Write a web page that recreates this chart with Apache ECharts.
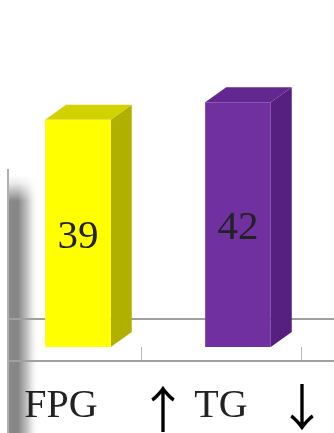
<!DOCTYPE html>
<html>
<head>
<meta charset="utf-8">
<script src="https://cdn.jsdelivr.net/npm/echarts@6/dist/echarts.min.js"></script>
<style>
  html, body { margin: 0; padding: 0; background: #fff; }
  #chart { width: 334px; height: 433px; }
</style>
</head>
<body>
<div id="chart"></div>
<script>
// Indicators and their values
const categories = ['FPG', 'TG'];
const values = [39, 42];
const trendMarks = ['↑', '↓'];

// Face colours of each prism: front, side, top
const faceColors = [
  ['#ffff00', '#b0b000', '#d2d200'],
  ['#7030a0', '#55207f', '#622890']
];

const chart = echarts.init(document.getElementById('chart'), null, { renderer: 'canvas' });

const DEPTH_X = 21;
const DEPTH_Y = 15;

function renderPrism(params, api) {
  const idx = api.value(0);
  const val = api.value(1);
  const topPt = api.coord([idx, val]);
  const basePt = api.coord([idx, 0]);
  const band = api.size([1, 0])[0];
  const w = band * 0.41;
  const cx = topPt[0] + band * 0.106;
  const left = cx - w / 2;
  const right = cx + w / 2;
  const top = topPt[1];
  const bottom = basePt[1];
  const c = faceColors[idx];
  return {
    type: 'group',
    children: [
      {
        type: 'polygon',
        shape: { points: [[right, top], [right + DEPTH_X, top - DEPTH_Y], [right + DEPTH_X, bottom - DEPTH_Y], [right, bottom]] },
        style: { fill: c[1] }
      },
      {
        type: 'polygon',
        shape: { points: [[left, top], [left + DEPTH_X, top - DEPTH_Y], [right + DEPTH_X, top - DEPTH_Y], [right, top]] },
        style: { fill: c[2] }
      },
      {
        type: 'rect',
        shape: { x: left, y: top, width: w, height: bottom - top },
        style: { fill: c[0] }
      },
      {
        type: 'text',
        x: cx,
        y: (top + bottom) / 2 + 4,
        style: {
          text: String(val),
          fill: '#222',
          font: '41px "Liberation Serif", "Times New Roman", serif',
          align: 'center',
          verticalAlign: 'middle'
        }
      }
    ]
  };
}

chart.setOption({
  animation: false,
  backgroundColor: '#fff',
  grid: { left: -19, right: 33, top: 55.5, bottom: 86, containLabel: false, outerBoundsMode: 'none' },
  xAxis: {
    type: 'category',
    data: categories,
    offset: 14,
    axisLine: { show: false },
    axisTick: { show: true, length: 15, lineStyle: { color: '#b8b8b8', width: 1 } },
    axisLabel: {
      margin: 25,
      color: '#222',
      fontFamily: '"Liberation Serif", "Times New Roman", serif',
      fontSize: 40,
      lineHeight: 40
    }
  },
  yAxis: {
    type: 'value',
    min: 0,
    max: 50,
    show: false,
    splitLine: { show: false }
  },
  graphic: [
    // left wall shadow
    {
      type: 'rect', z: 0,
      shape: { x: 9, y: 176, width: 30, height: 257 },
      style: {
        fill: new echarts.graphic.LinearGradient(0, 0, 1, 0, [
          { offset: 0, color: '#8a8a8a' },
          { offset: 0.3, color: '#858585' },
          { offset: 0.65, color: '#cdcdcd' },
          { offset: 1, color: 'rgba(255,255,255,0)' }
        ])
      }
    },
    {
      type: 'rect', z: 0,
      shape: { x: 9, y: 175, width: 32, height: 26 },
      style: {
        fill: new echarts.graphic.LinearGradient(0, 0, 0, 1, [
          { offset: 0, color: '#fff' },
          { offset: 0.3, color: 'rgba(255,255,255,0.85)' },
          { offset: 1, color: 'rgba(255,255,255,0)' }
        ])
      }
    },
    // wall edge
    {
      type: 'line', z: 1,
      shape: { x1: 8, y1: 169, x2: 8, y2: 433 },
      style: { stroke: '#b0b0b0', lineWidth: 2 }
    },
    // back edge of the floor
    {
      type: 'line', z: 1,
      shape: { x1: 9, y1: 319, x2: 334, y2: 319 },
      style: { stroke: '#a0a0a0', lineWidth: 2 }
    },
    // front edge of the floor
    {
      type: 'line', z: 1,
      shape: { x1: 9, y1: 361, x2: 334, y2: 361 },
      style: { stroke: '#a0a0a0', lineWidth: 2 }
    },
    // trend arrows
    {
      type: 'text', z: 5, x: 163, y: 409,
      style: {
        text: trendMarks[0], fill: '#000',
        font: '50px "Noto Sans CJK SC", sans-serif',
        align: 'center', verticalAlign: 'middle'
      }
    },
    {
      type: 'text', z: 5, x: 302, y: 407,
      style: {
        text: trendMarks[1], fill: '#000',
        font: '50px "Noto Sans CJK SC", sans-serif',
        align: 'center', verticalAlign: 'middle'
      }
    }
  ],
  series: [{
    type: 'custom',
    z: 3,
    renderItem: renderPrism,
    encode: { x: 0, y: 1 },
    data: values.map((v, i) => [i, v])
  }]
});
</script>
</body>
</html>
